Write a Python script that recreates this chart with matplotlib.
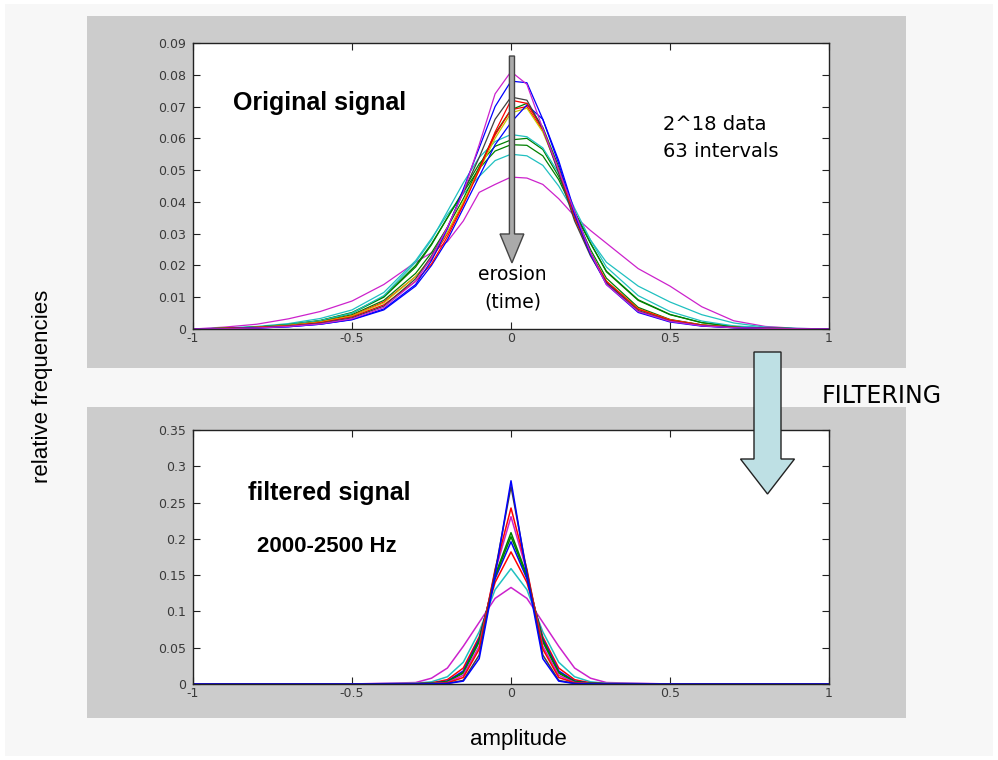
import matplotlib
matplotlib.use("Agg")
import matplotlib.pyplot as plt
from matplotlib.patches import Rectangle, FancyArrow

# ---------------- data ----------------
x_top = [-1.0, -0.9, -0.8, -0.7, -0.6, -0.5, -0.4, -0.3, -0.25, -0.2, -0.15, -0.1, -0.05,
         0.0, 0.05, 0.1, 0.15, 0.2, 0.25, 0.3, 0.4, 0.5, 0.6, 0.7, 0.8, 0.9, 1.0]

top_magenta1 = [0, 0.0001, 0.0003, 0.0008, 0.0016, 0.0032, 0.0068, 0.0150, 0.0225, 0.0320, 0.0430, 0.0580, 0.0740,
                0.0810, 0.0770, 0.0630, 0.0500, 0.0370, 0.0240, 0.0140, 0.0055, 0.0024, 0.0010, 0.0004, 0.0002, 0.0001, 0]
top_blue1 = [0, 0.0001, 0.0003, 0.0007, 0.0015, 0.0030, 0.0063, 0.0140, 0.0215, 0.0315, 0.0440, 0.0570, 0.0700,
             0.0780, 0.0775, 0.0660, 0.0520, 0.0360, 0.0235, 0.0140, 0.0052, 0.0022, 0.0009, 0.0004, 0.0002, 0.0001, 0]
top_black = [0, 0.0002, 0.0004, 0.0009, 0.0018, 0.0035, 0.0072, 0.0158, 0.0230, 0.0320, 0.0430, 0.0540, 0.0660,
             0.0730, 0.0720, 0.0630, 0.0490, 0.0340, 0.0230, 0.0145, 0.0058, 0.0025, 0.0011, 0.0005, 0.0002, 0.0001, 0]
top_red1 = [0, 0.0002, 0.0005, 0.0010, 0.0020, 0.0038, 0.0076, 0.0150, 0.0205, 0.0290, 0.0390, 0.0500, 0.0620,
            0.0720, 0.0710, 0.0630, 0.0500, 0.0350, 0.0235, 0.0150, 0.0062, 0.0028, 0.0012, 0.0005, 0.0002, 0.0001, 0]
top_blue2 = [0, 0.0001, 0.0003, 0.0007, 0.0015, 0.0029, 0.0060, 0.0135, 0.0200, 0.0280, 0.0380, 0.0480, 0.0580,
             0.0650, 0.0705, 0.0660, 0.0530, 0.0370, 0.0240, 0.0145, 0.0055, 0.0024, 0.0010, 0.0004, 0.0002, 0.0001, 0]
top_yellow = [0, 0.0002, 0.0005, 0.0011, 0.0022, 0.0041, 0.0082, 0.0165, 0.0225, 0.0305, 0.0400, 0.0500, 0.0600,
              0.0680, 0.0695, 0.0620, 0.0500, 0.0350, 0.0240, 0.0150, 0.0063, 0.0028, 0.0012, 0.0005, 0.0002, 0.0001, 0]
top_red2 = [0, 0.0002, 0.0005, 0.0011, 0.0022, 0.0042, 0.0085, 0.0165, 0.0220, 0.0300, 0.0395, 0.0505, 0.0610,
            0.0690, 0.0700, 0.0625, 0.0500, 0.0350, 0.0240, 0.0150, 0.0064, 0.0029, 0.0013, 0.0005, 0.0002, 0.0001, 0]
top_green1 = [0, 0.0002, 0.0005, 0.0011, 0.0023, 0.0045, 0.0090, 0.0175, 0.0240, 0.0320, 0.0410, 0.0510, 0.0615,
              0.0690, 0.0710, 0.0635, 0.0510, 0.0360, 0.0250, 0.0160, 0.0068, 0.0030, 0.0013, 0.0006, 0.0002, 0.0001, 0]
top_cyan1 = [0, 0.0002, 0.0006, 0.0013, 0.0026, 0.0050, 0.0105, 0.0210, 0.0280, 0.0370, 0.0460, 0.0540, 0.0590,
             0.0612, 0.0605, 0.0570, 0.0490, 0.0380, 0.0280, 0.0195, 0.0105, 0.0055, 0.0025, 0.0010, 0.0004, 0.0001, 0]
top_green2 = [0, 0.0002, 0.0006, 0.0013, 0.0026, 0.0050, 0.0100, 0.0195, 0.0265, 0.0350, 0.0435, 0.0520, 0.0575,
              0.0595, 0.0600, 0.0565, 0.0480, 0.0370, 0.0270, 0.0180, 0.0090, 0.0045, 0.0020, 0.0008, 0.0003, 0.0001, 0]
top_green3 = [0, 0.0002, 0.0006, 0.0014, 0.0027, 0.0052, 0.0102, 0.0200, 0.0268, 0.0350, 0.0430, 0.0505, 0.0560,
              0.0580, 0.0578, 0.0545, 0.0470, 0.0365, 0.0270, 0.0182, 0.0092, 0.0046, 0.0020, 0.0008, 0.0003, 0.0001, 0]
top_cyan2 = [0, 0.0003, 0.0008, 0.0017, 0.0033, 0.0060, 0.0115, 0.0215, 0.0285, 0.0360, 0.0425, 0.0480, 0.0530,
             0.0550, 0.0545, 0.0515, 0.0450, 0.0365, 0.0280, 0.0210, 0.0135, 0.0085, 0.0045, 0.0019, 0.0006, 0.0002, 0]
top_magenta2 = [0, 0.0006, 0.0015, 0.0032, 0.0055, 0.0088, 0.0140, 0.0210, 0.0240, 0.0275, 0.0340, 0.0430, 0.0455,
                0.0478, 0.0475, 0.0455, 0.0410, 0.0355, 0.0310, 0.0270, 0.0190, 0.0135, 0.0070, 0.0026, 0.0008, 0.0002, 0]

x_bot = [-1.0, -0.5, -0.3, -0.25, -0.2, -0.15, -0.1, -0.05, 0.0, 0.05, 0.1, 0.15, 0.2, 0.25, 0.3, 0.5, 1.0]

bot_magenta2 = [0, 0, 0.002, 0.008, 0.022, 0.052, 0.085, 0.118, 0.133, 0.118, 0.085, 0.052, 0.022, 0.008, 0.002, 0, 0]
bot_cyan = [0, 0, 0.001, 0.003, 0.010, 0.030, 0.072, 0.130, 0.159, 0.130, 0.072, 0.030, 0.010, 0.003, 0.001, 0, 0]
bot_red2 = [0, 0, 0.0005, 0.0015, 0.006, 0.022, 0.065, 0.140, 0.182, 0.140, 0.065, 0.022, 0.006, 0.0015, 0.0005, 0, 0]
bot_blue2 = [0, 0, 0.0004, 0.001, 0.004, 0.018, 0.062, 0.145, 0.196, 0.145, 0.062, 0.018, 0.004, 0.001, 0.0004, 0, 0]
bot_green2 = [0, 0, 0.0003, 0.0009, 0.0035, 0.016, 0.060, 0.148, 0.203, 0.148, 0.060, 0.016, 0.0035, 0.0009, 0.0003, 0, 0]
bot_green1 = [0, 0, 0.0003, 0.0008, 0.003, 0.015, 0.058, 0.150, 0.2085, 0.150, 0.058, 0.015, 0.003, 0.0008, 0.0003, 0, 0]
bot_magenta1 = [0, 0, 0.0002, 0.0005, 0.002, 0.012, 0.052, 0.155, 0.2305, 0.155, 0.052, 0.012, 0.002, 0.0005, 0.0002, 0, 0]
bot_red1 = [0, 0, 0.0001, 0.0003, 0.0015, 0.009, 0.048, 0.158, 0.2425, 0.158, 0.048, 0.009, 0.0015, 0.0003, 0.0001, 0, 0]
bot_black = [0, 0, 0, 0.0002, 0.0008, 0.005, 0.040, 0.155, 0.272, 0.155, 0.040, 0.005, 0.0008, 0.0002, 0, 0, 0]
bot_blue1 = [0, 0, 0, 0.0002, 0.0006, 0.004, 0.035, 0.150, 0.280, 0.150, 0.035, 0.004, 0.0006, 0.0002, 0, 0, 0]

x_ticks = [-1, -0.5, 0, 0.5, 1]
x_ticklabels = ['-1', '-0.5', '0', '0.5', '1']
top_yticks = [0, 0.01, 0.02, 0.03, 0.04, 0.05, 0.06, 0.07, 0.08, 0.09]
top_yticklabels = ['0', '0.01', '0.02', '0.03', '0.04', '0.05', '0.06', '0.07', '0.08', '0.09']
bot_yticks = [0, 0.05, 0.1, 0.15, 0.2, 0.25, 0.3, 0.35]
bot_yticklabels = ['0', '0.05', '0.1', '0.15', '0.2', '0.25', '0.3', '0.35']

# ---------------- styling ----------------
B = '#0000ff'; G = '#008000'; R = '#ff0000'; C = '#20c0c0'; M = '#cc22cc'; Y = '#c8c800'; K = '#404040'

top_series = [
    (top_magenta2, M), (top_cyan2, C), (top_green3, G), (top_green2, G), (top_cyan1, C),
    (top_green1, G), (top_red2, R), (top_yellow, Y), (top_blue2, B), (top_red1, R),
    (top_black, K), (top_blue1, B), (top_magenta1, M),
]
bot_series = [
    (bot_magenta2, M), (bot_cyan, C), (bot_red2, R), (bot_blue2, B), (bot_green2, G),
    (bot_green1, G), (bot_magenta1, M), (bot_red1, R), (bot_black, K), (bot_blue1, B),
]

W, H = 998, 760
fig = plt.figure(figsize=(W / 100, H / 100), dpi=100, facecolor='white')

def fx(px):
    return px / W

def fy(py):
    return 1 - py / H

# light background with thin white margin
fig.patches.append(Rectangle((fx(5), fy(756)), fx(988), 752 / H, transform=fig.transFigure,
                             facecolor='#f7f7f7', edgecolor='none', zorder=-3))
# gray panels
fig.patches.append(Rectangle((fx(87), fy(368)), fx(906 - 87), (368 - 16) / H, transform=fig.transFigure,
                             facecolor='#cccccc', edgecolor='none', zorder=-2))
fig.patches.append(Rectangle((fx(87), fy(718)), fx(906 - 87), (718 - 407) / H, transform=fig.transFigure,
                             facecolor='#cccccc', edgecolor='none', zorder=-2))

ax1 = fig.add_axes([fx(193), fy(329), fx(829 - 193), (329 - 43) / H])
ax2 = fig.add_axes([fx(193), fy(684), fx(829 - 193), (684 - 430) / H])

tick_font = dict(family='DejaVu Sans', size=9, color='#3a3a3a')

for ax, yt, ytl, ymax in [(ax1, top_yticks, top_yticklabels, 0.09),
                          (ax2, bot_yticks, bot_yticklabels, 0.35)]:
    ax.set_xlim(-1, 1)
    ax.set_ylim(0, ymax)
    ax.set_xticks(x_ticks)
    ax.set_xticklabels(x_ticklabels, fontdict=tick_font)
    ax.set_yticks(yt)
    ax.set_yticklabels(ytl, fontdict=tick_font)
    ax.tick_params(direction='in', length=5, width=0.8, top=True, right=True,
                   color='#222222', pad=5)
    ax.tick_params(axis='x', pad=2)
    for s in ax.spines.values():
        s.set_linewidth(1.0)
        s.set_color('#222222')
    ax.set_facecolor('white')

for ys, col in top_series:
    ax1.plot(x_top, ys, color=col, lw=0.9)
for ys, col in bot_series:
    ax2.plot(x_bot, ys, color=col, lw=1.1)

# erosion arrow (top plot)
ax1.add_patch(FancyArrow(0.003, 0.0859, 0, 0.0208 - 0.0859, width=0.016, head_width=0.075,
                         head_length=0.0091, length_includes_head=True,
                         facecolor='#aaaaaa', edgecolor='#444444', lw=1.0, zorder=5))

# texts in top plot
ax1.text(-0.874, 0.0711, 'Original signal', family='Liberation Sans', weight='bold', size=18,
         va='center', ha='left')
ax1.text(0.477, 0.0645, '2^18 data', family='DejaVu Sans', size=14, va='center', ha='left')
ax1.text(0.477, 0.0560, '63 intervals', family='DejaVu Sans', size=14, va='center', ha='left')
ax1.text(0.005, 0.0170, 'erosion', family='DejaVu Sans', size=13.5, va='center', ha='center')
ax1.text(0.005, 0.0085, '(time)', family='DejaVu Sans', size=13.5, va='center', ha='center')

# texts in bottom plot
ax2.text(-0.827, 0.263, 'filtered signal', family='Liberation Sans', weight='bold', size=18,
         va='center', ha='left')
ax2.text(-0.798, 0.190, '2000-2500 Hz', family='Liberation Sans', weight='bold', size=16,
         va='center', ha='left')

# filtering arrow
fig.patches.append(FancyArrow(fx(767.5), fy(352), 0, fy(494) - fy(352), width=fx(27),
                              head_width=fx(54), head_length=(494 - 459) / H,
                              length_includes_head=True, transform=fig.transFigure,
                              facecolor='#bee0e4', edgecolor='#222222', lw=1.0, zorder=6))
fig.text(fx(822), fy(396), 'FILTERING', family='DejaVu Sans', size=17, va='center', ha='left')

# axis labels
fig.text(fx(43), fy(386), 'relative frequencies', family='Liberation Sans', size=16,
         rotation=90, va='center', ha='center')
fig.text(fx(518), fy(740), 'amplitude', family='Liberation Sans', size=16, va='center', ha='center')

fig.savefig('out.png', dpi=100, facecolor=fig.get_facecolor())
